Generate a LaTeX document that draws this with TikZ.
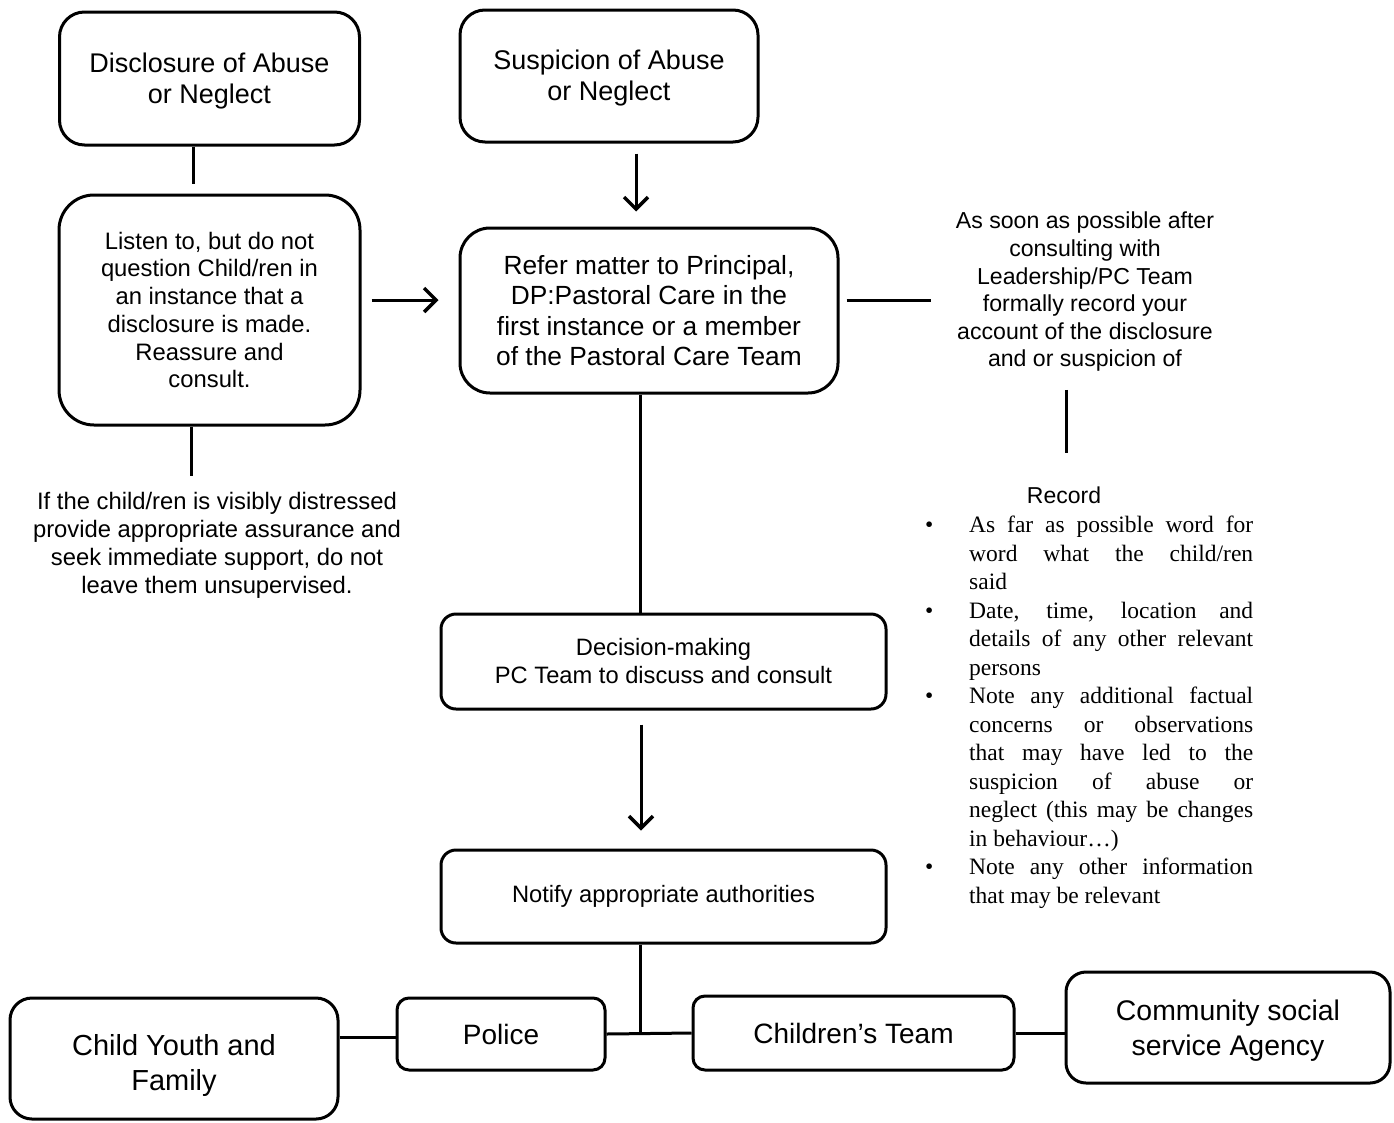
\documentclass[tikz,border=0pt]{standalone}
\usepackage{fontspec}
\setmainfont{Liberation Sans}
\newfontfamily\recfont{Liberation Serif}
\usetikzlibrary{arrows.meta}
\newcommand{\fs}[2]{\fontsize{#1}{#2}\selectfont}
\newcommand{\bl}[1]{\makebox[44pt][l]{\textbullet}\makebox[284pt][s]{#1}}
\newcommand{\jl}[1]{\hspace*{44pt}\makebox[284pt][s]{#1}}
\newcommand{\lastl}[1]{\hspace*{44pt}#1}
\newcommand{\down}[2]{\raisebox{-#1}[\height][\depth]{\begin{tabular}{@{}c@{}}#2\end{tabular}}}
\begin{document}
\begin{tikzpicture}[x=1pt,y=-1pt,
  box/.style={draw, line width=3pt, align=center, inner sep=0pt},
  conn/.style={line width=3pt},
  arr/.style={line width=3pt, -{Straight Barb[length=12pt,width=24pt,line width=3.5pt]}},
  txt/.style={align=center, inner sep=0pt}]
\useasboundingbox (0,0) rectangle (1394,1122);

% boxes
\node[box, rounded corners=25pt, minimum width=300pt, minimum height=133pt, font=\fs{27}{31}]
  (disc) at (209.5,78.5) {\down{3pt}{Disclosure of Abuse\\or Neglect}};
\node[box, rounded corners=25pt, minimum width=298pt, minimum height=132pt, font=\fs{27}{31}]
  (susp) at (609,76) {\down{3pt}{Suspicion of Abuse\\or Neglect}};
\node[box, rounded corners=35pt, minimum width=301pt, minimum height=230pt, font=\fs{23.8}{27.7}]
  (listen) at (209.5,310) {Listen to, but do not\\question Child/ren in\\an instance that a\\disclosure is made.\\Reassure and\\consult.};
\node[box, rounded corners=30pt, minimum width=378pt, minimum height=165pt, font=\fs{26.3}{30.5}]
  (refer) at (649,310.5) {Refer matter to Principal,\\DP:Pastoral Care in the\\first instance or a member\\of the Pastoral Care Team};
\node[box, rounded corners=15pt, minimum width=445pt, minimum height=95pt, font=\fs{23.7}{28}]
  (decision) at (663.5,661.5) {Decision-making\\PC Team to discuss and consult};
\node[box, rounded corners=15pt, minimum width=445pt, minimum height=93pt, font=\fs{23.7}{28}]
  (notify) at (663.5,896.5) {Notify appropriate authorities};
\node[box, rounded corners=22pt, minimum width=328pt, minimum height=121pt, font=\fs{29}{35}]
  (cyf) at (174,1058.5) {\down{7pt}{Child Youth and\\Family}};
\node[box, rounded corners=12pt, minimum width=208pt, minimum height=72pt, font=\fs{28}{33}]
  (police) at (501,1034) {Police};
\node[box, rounded corners=12pt, minimum width=321pt, minimum height=74pt, font=\fs{28}{33}]
  (children) at (853.5,1033) {Children’s Team};
\node[box, rounded corners=20pt, minimum width=324pt, minimum height=111pt, font=\fs{28.4}{35}]
  (community) at (1228,1027.5) {\down{3pt}{Community social\\service Agency}};

% free texts
\node[txt, font=\fs{23.8}{28}] (distress) at (217,545)
  {If the child/ren is visibly distressed\\provide appropriate assurance and\\seek immediate support, do not\\leave them unsupervised.};
\node[txt, font=\fs{23.1}{27.6}] (asoon) at (1085,292)
  {As soon as possible after\\consulting with\\Leadership/PC Team\\formally record your\\account of the disclosure\\and or suspicion of};
\node[txt, font=\fs{23}{27}] (record) at (1064,495) {Record};
\node[inner sep=0pt, anchor=north west, align=left, font=\recfont\fs{23.5}{28.5}] (reclist) at (925,516)
  {\bl{As far as possible word for}\\
   \jl{word what the child/ren}\\
   \lastl{said}\\
   \bl{Date, time, location and}\\
   \jl{details of any other relevant}\\
   \lastl{persons}\\
   \bl{Note any additional factual}\\
   \jl{concerns or observations}\\
   \jl{that may have led to the}\\
   \jl{suspicion of abuse or}\\
   \jl{neglect (this may be changes}\\
   \lastl{in behaviour…)}\\
   \bl{Note any other information}\\
   \lastl{that may be relevant}};

\coordinate (junc) at (640,1034);

% connectors
\draw[conn, shorten >=10pt] ([xshift=-16.5pt]disc.south) -- ([xshift=-16.5pt]listen.north);
\draw[conn, shorten >=16pt] ([xshift=-18.5pt]listen.south) -- ([xshift=-26pt]distress.north);
\draw[arr, shorten <=10pt, shorten >=20pt] ([yshift=10pt]listen.east) -- ([yshift=10pt]listen.east -| refer.west);
\draw[arr, shorten <=10pt, shorten >=15pt] ([xshift=27pt]susp.south) -- ([xshift=-13pt]refer.north);
\draw[conn, shorten <=7pt, shorten >=25pt] ([yshift=10pt]refer.east) -- ([yshift=10pt]refer.east -| asoon.west);
\draw[conn, shorten <=18pt, shorten >=33pt] ([xshift=-19pt]asoon.south) -- ([xshift=2pt]record.north);
\draw[conn] ([xshift=-9pt]refer.south) -- ([xshift=-23.5pt]decision.north);
\draw[arr, shorten <=14pt, shorten >=18pt] ([xshift=-22.5pt]decision.south) -- ([xshift=-22.5pt]notify.north);
\draw[conn] ([xshift=-23.5pt]notify.south) -- (junc);
\draw[conn] (police.east) -- (children.west);
\draw[conn] ([yshift=-3pt]police.west -| cyf.east) -- ([yshift=-3pt]police.west);
\draw[conn] (children.east) -- (children.east -| community.west);
\end{tikzpicture}
\end{document}
